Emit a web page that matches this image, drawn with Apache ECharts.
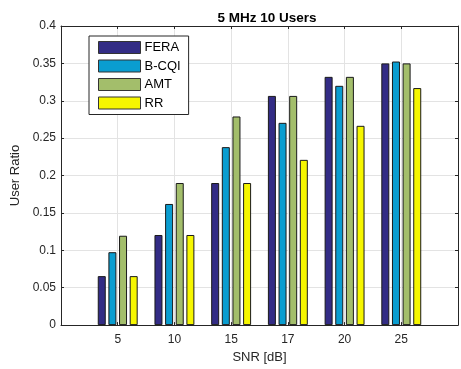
<!DOCTYPE html>
<html>
<head>
<meta charset="utf-8">
<script src="https://cdn.jsdelivr.net/npm/echarts@6/dist/echarts.min.js"></script>
<style>html,body{margin:0;padding:0;background:#fff;}#c{width:461px;height:369px;}</style>
</head>
<body>
<div id="c"></div>
<script>
const categories = ['5', '10', '15', '17', '20', '25'];
const seriesNames = ['FERA', 'B-CQI', 'AMT', 'RR'];
const fera = [0.0655, 0.1205, 0.190, 0.3065, 0.332, 0.350];
const bcqi = [0.0975, 0.162, 0.238, 0.2705, 0.320, 0.3525];
const amt  = [0.1195, 0.190, 0.279, 0.3065, 0.332, 0.350];
const rr   = [0.0655, 0.1205, 0.190, 0.221, 0.2665, 0.317];
const yTicks = [0, 0.05, 0.1, 0.15, 0.2, 0.25, 0.3, 0.35, 0.4];
const colors = ['#332c85', '#0a9dd0', '#a3be6b', '#f6f600'];

const allValues = [fera, bcqi, amt, rr];
const chart = echarts.init(document.getElementById('c'), null, {renderer: 'canvas'});
const axisColor = '#262626';
const gridColor = '#e3e3e3';
const font = 'Liberation Sans, Arial, sans-serif';

const series = seriesNames.map((name, s) => ({
  name: name,
  type: 'bar',
  xAxisIndex: 0,
  yAxisIndex: 0,
  barWidth: 8,
  barGap: '33%',
  itemStyle: {color: colors[s], borderColor: '#1a1a1a', borderWidth: 1},
  emphasis: {disabled: true},
  data: allValues[s].map((v, i) => [i + 1, v])
}));

chart.setOption({
  animation: false,
  backgroundColor: '#ffffff',
  title: {
    text: '5 MHz 10 Users',
    left: 262, top: 6, textAlign: 'center',
    textStyle: {fontFamily: font, fontSize: 13.5, fontWeight: 'bold', color: '#000'}
  },
  legend: {
    orient: 'vertical',
    left: 89, top: 36,
    padding: [5, 8, 5, 9],
    icon: 'rect',
    itemWidth: 42, itemHeight: 12, itemGap: 5.5,
    itemStyle: {borderColor: '#333', borderWidth: 1},
    borderColor: '#262626', borderWidth: 1,
    backgroundColor: '#fff',
    textStyle: {fontFamily: font, fontSize: 13, color: '#000', padding: [0, 0, 0, -1]},
    data: seriesNames
  },
  grid: {left: 61, top: 26, width: 402, height: 301, containLabel: false},
  xAxis: [{
    type: 'value', min: 0, max: 7, interval: 1, position: 'bottom',
    name: 'SNR [dB]', nameLocation: 'middle', nameGap: 23,
    nameTextStyle: {fontFamily: font, fontSize: 13, color: axisColor},
    axisLine: {show: true, onZero: false, lineStyle: {color: axisColor, width: 1}},
    axisTick: {show: true, inside: true, length: 3, lineStyle: {color: axisColor}},
    axisLabel: {
      fontFamily: font, fontSize: 12, color: axisColor, margin: 9,
      showMinLabel: true, showMaxLabel: true,
      formatter: v => (v >= 1 && v <= categories.length) ? categories[v - 1] : ''
    },
    splitLine: {show: true, lineStyle: {color: gridColor, width: 1}}
  }, {
    type: 'value', min: 0, max: 7, interval: 1, position: 'top',
    axisLine: {show: true, onZero: false, lineStyle: {color: axisColor, width: 1}},
    axisTick: {show: true, inside: true, length: 3, lineStyle: {color: axisColor}},
    axisLabel: {show: false},
    splitLine: {show: false}
  }],
  yAxis: [{
    type: 'value', min: yTicks[0], max: yTicks[yTicks.length - 1], interval: 0.05,
    name: 'User Ratio', nameLocation: 'middle', nameGap: 37, nameRotate: 90,
    nameTextStyle: {fontFamily: font, fontSize: 13, color: axisColor},
    axisLine: {show: true, onZero: false, lineStyle: {color: axisColor, width: 1}},
    axisTick: {show: true, inside: true, length: 3, lineStyle: {color: axisColor}},
    axisLabel: {fontFamily: font, fontSize: 12, color: axisColor, margin: 5},
    splitLine: {show: true, lineStyle: {color: gridColor, width: 1}}
  }, {
    type: 'value', min: yTicks[0], max: yTicks[yTicks.length - 1], interval: 0.05, position: 'right',
    axisLine: {show: true, onZero: false, lineStyle: {color: axisColor, width: 1}},
    axisTick: {show: true, inside: true, length: 3, lineStyle: {color: axisColor}},
    axisLabel: {show: false},
    splitLine: {show: false}
  }],
  series: series
});
</script>
</body>
</html>
